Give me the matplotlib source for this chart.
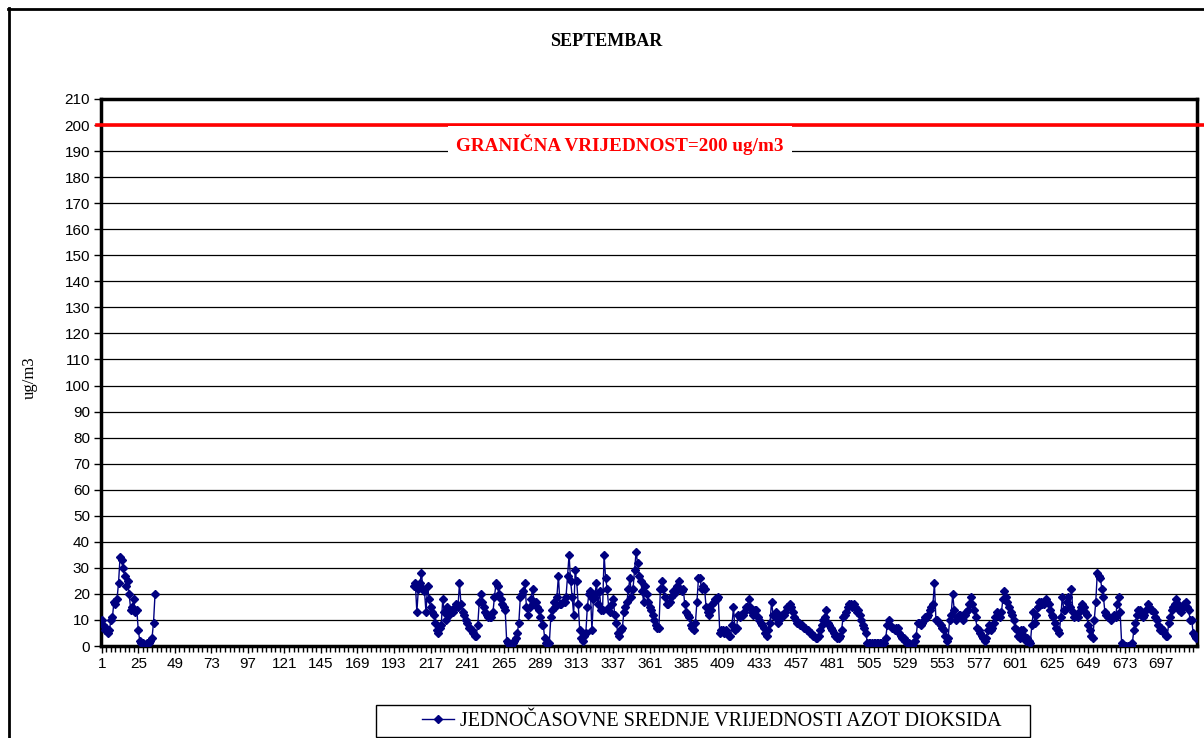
import numpy as np
import matplotlib
matplotlib.use("Agg")
import matplotlib.pyplot as plt
from matplotlib.lines import Line2D
from matplotlib.patches import Rectangle

# Jednočasovne vrijednosti NO2, septembar (sati 1-720)
title = "SEPTEMBAR"
series_name = "JEDNOČASOVNE SREDNJE VRIJEDNOSTI AZOT DIOKSIDA"
limit_value = 200
limit_text = "GRANIČNA VRIJEDNOST=200 ug/m3"
y_label = "ug/m3"

# sati 1-36
no2_h1_36 = [10, 8, 6, 7, 5, 6, 10, 11, 17, 16, 18, 24, 34, 33, 30, 27, 23, 25, 20, 14,
             15, 18, 13, 14, 6, 2, 1, 1, 0, 0, 1, 1, 2, 3, 9, 20]
# sati 37-205 bez podataka
missing_hours = 169
# sati 206-328
no2_h206_328 = [23, 24, 13, 22, 24, 28, 22, 21, 13, 23,
                18, 15, 13, 12, 9, 6, 5, 7, 8, 18,
                13, 10, 15, 12, 14, 13, 13, 15, 16, 15,
                24, 16, 13, 12, 10, 9, 7, 7, 6, 5,
                4, 4, 8, 17, 20, 17, 15, 13, 12, 11,
                11, 11, 13, 19, 24, 23, 20, 18, 16, 15,
                14, 2, 1, 0, 0, 1, 2, 3, 5, 9,
                19, 20, 21, 24, 15, 12, 15, 18, 22, 17,
                17, 15, 14, 11, 8, 8, 3, 1, 1, 1,
                11, 14, 17, 15, 19, 27, 16, 16, 17, 17,
                19, 27, 35, 25, 19, 12, 29, 25, 16, 6,
                3, 2, 4, 5, 15, 20, 21, 6, 18, 20,
                24, 16, 21]
# sati 329-452
no2_h329_452 = [14, 14, 35, 26, 22, 15, 13, 16, 18, 12,
                9, 5, 4, 6, 7, 13, 15, 17, 22, 26,
                19, 22, 29, 36, 32, 27, 25, 21, 17, 23,
                20, 17, 15, 14, 12, 10, 8, 7, 7, 22,
                25, 22, 19, 16, 16, 17, 19, 21, 20, 21,
                23, 25, 22, 21, 22, 16, 13, 12, 11, 8,
                7, 6, 9, 17, 26, 26, 22, 23, 22, 15,
                13, 12, 14, 16, 17, 18, 18, 19, 5, 6,
                6, 5, 6, 5, 4, 4, 8, 15, 6, 7,
                12, 11, 12, 12, 13, 15, 15, 18, 15, 13,
                12, 14, 14, 11, 10, 9, 8, 7, 5, 4,
                6, 9, 17, 12, 11, 13, 9, 10, 11, 12,
                12, 13, 15, 15]
# sati 453-577
no2_h453_577 = [16, 15, 13, 11, 10, 9, 9, 8, 8, 7,
                7, 6, 6, 5, 5, 4, 4, 3, 3, 4,
                6, 8, 10, 11, 14, 9, 8, 7, 6, 5,
                4, 3, 3, 4, 6, 11, 12, 13, 15, 16,
                16, 15, 16, 15, 13, 14, 12, 10, 8, 7,
                5, 1, 1, 1, 1, 1, 1, 1, 1, 1,
                1, 1, 1, 3, 8, 10, 8, 7, 7, 6,
                7, 7, 5, 4, 3, 3, 2, 1, 1, 0,
                0, 1, 2, 4, 9, 9, 8, 9, 10, 11,
                11, 12, 14, 15, 16, 24, 10, 10, 9, 8,
                7, 6, 4, 2, 3, 10, 12, 20, 14, 10,
                11, 12, 12, 11, 10, 12, 13, 14, 16, 19,
                16, 14, 11, 7, 6]
# sati 578-720
no2_h578_720 = [5, 4, 3, 2, 3, 6, 8, 6, 7, 9,
                11, 13, 12, 11, 13, 18, 21, 19, 17, 15,
                13, 12, 10, 7, 6, 4, 3, 6, 6, 4,
                2, 3, 2, 1, 8, 13, 9, 12, 15, 17,
                17, 16, 16, 18, 17, 16, 14, 12, 11, 9,
                7, 6, 5, 11, 19, 14, 14, 17, 19, 15,
                22, 13, 11, 12, 11, 13, 15, 16, 15, 13,
                12, 8, 6, 4, 3, 10, 17, 28, 27, 26,
                22, 19, 13, 12, 11, 11, 10, 11, 12, 11,
                16, 19, 13, 1, 0, 0, 0, 0, 0, 0,
                1, 6, 9, 12, 14, 14, 12, 11, 12, 14,
                16, 15, 14, 14, 13, 11, 10, 8, 6, 7,
                6, 5, 4, 4, 9, 11, 14, 15, 16, 18,
                16, 14, 13, 15, 16, 17, 15, 14, 10, 10,
                5, 4, 3]

values = np.array(no2_h1_36 + [np.nan] * missing_hours + no2_h206_328
                  + no2_h329_452 + no2_h453_577 + no2_h578_720, dtype=float)
hours = np.arange(1, len(values) + 1)

serif = "Liberation Serif"
sans = "Liberation Sans"

fig = plt.figure(figsize=(12.04, 7.38), dpi=100)
ax = fig.add_axes([101 / 1204, 92 / 738, 1096 / 1204, 547 / 738])

line, = ax.plot(hours, values, color="#000080", lw=1, marker="D", ms=3.6,
                markeredgecolor="#000080", markerfacecolor="#000080",
                label=series_name, zorder=3)

ax.set_xlim(0.5, 720.5)
ax.set_ylim(0, 210)
ax.set_yticks(range(0, 211, 10))
ax.set_xticks(range(1, 721, 24))
ax.set_xticks(range(1, 721, 3), minor=True)
ax.grid(axis="y", color="black", lw=0.9)
ax.set_axisbelow(True)

for s in ax.spines.values():
    s.set_linewidth(2.5)
ax.tick_params(axis="both", which="major", direction="out", length=5, width=1,
               labelsize=11, pad=3)
ax.tick_params(axis="x", which="minor", direction="out", length=4, width=1)
for lab in ax.get_xticklabels() + ax.get_yticklabels():
    lab.set_fontfamily(sans)

# granična vrijednost
ax.plot([-0.004, 1.01], [limit_value, limit_value], color="red", lw=2.6,
        transform=ax.get_yaxis_transform(), clip_on=False, zorder=4)
ax.text(0.4735, 0.917, limit_text, transform=ax.transAxes, ha="center",
        va="center", color="red", fontweight="bold", fontsize=13.8, family=serif,
        bbox=dict(facecolor="white", edgecolor="none", pad=6), zorder=5)

fig.text(606 / 1204, 1 - 42 / 738, title, ha="center", va="center",
         fontweight="bold", fontsize=13, family=serif)
fig.text(30 / 1204, 1 - 378 / 738, y_label, ha="center", va="center",
         rotation=90, fontsize=12, family=serif)

# legenda s okvirom kao u Excelu
fig.add_artist(Rectangle((376 / 1204, 1 - 737 / 738), (1030 - 376) / 1204,
                         32 / 738, transform=fig.transFigure, fill=False,
                         edgecolor="black", lw=1))
ax.legend(handles=[line], loc="center left",
          bbox_to_anchor=(422 / 1204, 1 - 721 / 738),
          bbox_transform=fig.transFigure, frameon=False, numpoints=1,
          handlelength=1.6, handletextpad=0.3, borderpad=0, borderaxespad=0,
          prop={"family": serif, "size": 14.5})

# okvir grafikona
fig.add_artist(Line2D([8 / 1204, 1], [1 - 9 / 738] * 2,
                      transform=fig.transFigure, color="black", lw=2))
fig.add_artist(Line2D([9 / 1204] * 2, [0, 1 - 8 / 738],
                      transform=fig.transFigure, color="black", lw=2))

fig.savefig("out.png", dpi=100, facecolor="white")
